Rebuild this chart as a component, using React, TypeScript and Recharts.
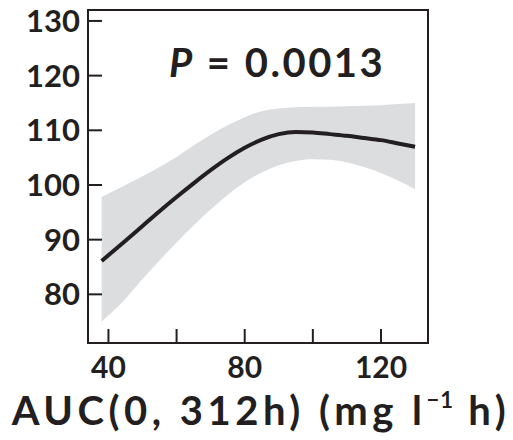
import { ComposedChart, Line, Area, XAxis, YAxis, ReferenceArea, ReferenceDot } from 'recharts';

// AUC(0, 312h) values along the fitted curve
const AUC = [38, 45, 50, 55, 60, 65, 70, 75, 80, 85, 90, 95, 100, 105, 110, 115, 120, 125, 130];
const FIT = [86.1, 89.8, 92.5, 95.2, 97.8, 100.3, 102.7, 104.9, 106.8, 108.3, 109.3, 109.7, 109.6, 109.3, 109, 108.6, 108.2, 107.6, 107];
const LOWER = [75, 79.2, 82.8, 86.2, 89.5, 92.6, 95.5, 98.2, 100.5, 102.3, 103.6, 104.4, 104.7, 104.6, 104.1, 103.3, 102.2, 100.8, 99.2];
const UPPER = [97.8, 100, 101.6, 103.3, 105.1, 107.2, 109.2, 110.9, 112.4, 113.5, 114, 114.2, 114.3, 114.3, 114.4, 114.5, 114.6, 114.8, 115];

const Y_TICKS = [80, 90, 100, 110, 120, 130];
const X_TICKS = [40, 60, 80, 100, 120];
const X_LABELS = [40, 80, 120];

const INK = '#231f20';
const FONT = 'Lato, sans-serif';

const data = AUC.map((x, i) => ({ x, fit: FIT[i], band: [LOWER[i], UPPER[i]] }));

function YTick({ x, y, payload }: any) {
  return (
    <g>
      <line x1={x + 8} x2={x + 22} y1={y} y2={y} stroke={INK} strokeWidth={2} />
      <text x={x} y={y} dy="0.36em" textAnchor="end" fontFamily={FONT} fontWeight={700} fontSize={31} fill={INK}>
        {payload.value}
      </text>
    </g>
  );
}

function XTick({ x, y, payload }: any) {
  return (
    <g>
      <line x1={x} x2={x} y1={y} y2={y - 14} stroke={INK} strokeWidth={2} />
      {X_LABELS.includes(payload.value) && (
        <text x={x} y={y + 35} textAnchor="middle" fontFamily={FONT} fontWeight={700} fontSize={30} fill={INK}>
          {payload.value}
        </text>
      )}
    </g>
  );
}

function XTitle({ viewBox }: any) {
  const cx = viewBox.x + viewBox.width / 2;
  return (
    <text x={cx + 3} y={viewBox.y + 82} textAnchor="middle" fontFamily={FONT} fontWeight={700} fontSize={40} letterSpacing={4.5} fill={INK}>
      AUC(0, 312h) (mg l
      <tspan fontSize={22} dy={-17} letterSpacing={1}>−1</tspan>
      <tspan dy={17}> h)</tspan>
    </text>
  );
}

function PLabel({ viewBox }: any) {
  return (
    <text x={viewBox.x} y={viewBox.y} textAnchor="middle" fontFamily={FONT} fontWeight={700} fontSize={40} letterSpacing={2.5} fill={INK}>
      <tspan fontStyle="italic">P</tspan> = 0.0013
    </text>
  );
}

export default function App() {
  return (
    <div style={{ margin: '-8px 0 0 -8px' }}>
      <ComposedChart width={513} height={440} data={data} margin={{ top: 10, right: 85, left: 8, bottom: 0 }}>
        <ReferenceArea x1={34} x2={133.8} y1={71.1} y2={132} fill="none" stroke={INK} strokeWidth={2} />
        <Area dataKey="band" stroke="none" fill="#dcdddf" fillOpacity={1} isAnimationActive={false} type="monotone" />
        <Line dataKey="fit" stroke={INK} strokeWidth={4} dot={false} type="monotone" isAnimationActive={false} />
        <XAxis
          dataKey="x"
          type="number"
          domain={[34, 133.8]}
          ticks={X_TICKS}
          tickLine={false}
          tickSize={0}
          tickMargin={0}
          height={97}
          axisLine={{ stroke: INK, strokeWidth: 2 }}
          tick={<XTick />}
          label={<XTitle />}
        />
        <YAxis
          type="number"
          domain={[71.1, 132]}
          ticks={Y_TICKS}
          tickLine={false}
          tickSize={0}
          tickMargin={8}
          width={80}
          axisLine={{ stroke: INK, strokeWidth: 2 }}
          tick={<YTick />}
        />
        <ReferenceDot x={89.5} y={119.8} r={0} label={<PLabel />} />
      </ComposedChart>
    </div>
  );
}
